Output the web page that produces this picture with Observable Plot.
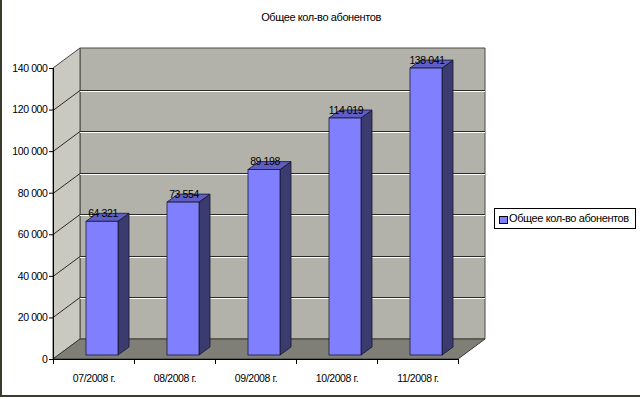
<!DOCTYPE html>
<html>
<head>
<meta charset="utf-8">
<script src="https://cdn.jsdelivr.net/npm/d3@7"></script>
<script src="https://cdn.jsdelivr.net/npm/@observablehq/plot@0.6"></script>
<style>
  html, body { margin: 0; padding: 0; background: #fff; }
  #wrap { position: relative; width: 640px; height: 399px; overflow: hidden; font-family: "Liberation Sans", Arial, sans-serif; }
  #frame { position: absolute; left: 0; top: 0; width: 640px; height: 397px; border-left: 2px solid #3b3b2c; border-bottom: 2px solid #3b3b2c; box-sizing: border-box; pointer-events: none; }
  #title { position: absolute; top: 11px; left: 0; width: 642px; text-align: center; font-size: 11px; letter-spacing: -0.4px; color: #000; }
  #legend { position: absolute; left: 494px; top: 208px; width: 142px; height: 21px; border: 1px solid #000; box-sizing: border-box; background: #fff; font-size: 11px; letter-spacing: -0.4px; }
  #legend .sw { position: absolute; left: 4px; top: 7px; width: 7px; height: 6px; background: #8080ff; border: 1px solid #000; }
  #legend .lb { position: absolute; left: 14px; top: 3px; white-space: nowrap; }
  svg { position: absolute; left: 0; top: 0; }
  svg text { letter-spacing: -0.4px; }
</style>
</head>
<body>
<div id="wrap">
  <div id="chart"></div>
  <div id="title"></div>
  <div id="legend"><div class="sw"></div><div class="lb"></div></div>
  <div id="frame"></div>
</div>
<script>
const title = "Общее кол-во абонентов";
const seriesName = "Общее кол-во абонентов";
const months = ["07/2008 г.", "08/2008 г.", "09/2008 г.", "10/2008 г.", "11/2008 г."];
const subscribers = [64321, 73554, 89198, 114019, 138041];
const yTicks = [0, 20000, 40000, 60000, 80000, 100000, 120000, 140000];

document.getElementById("title").textContent = title;
document.querySelector("#legend .lb").textContent = seriesName;

const data = months.map((m, i) => ({month: m, i, value: subscribers[i]}));
const fmt = (v) => d3.format(",")(v).replace(/,/g, " ");

// 3D geometry (pixels)
const DEPTH = {dx: 27, dy: 20};
const BAR = {inL: 33, inR: 16, dx: 11, dy: 8, lift: 4};

const svgNS = "http://www.w3.org/2000/svg";
function poly(pts, fill, stroke, sw) {
  const p = document.createElementNS(svgNS, "polygon");
  p.setAttribute("points", pts.map(q => q.join(",")).join(" "));
  p.setAttribute("fill", fill);
  if (stroke) { p.setAttribute("stroke", stroke); p.setAttribute("stroke-width", sw || 1); }
  return p;
}
function line(x1, y1, x2, y2, stroke, sw) {
  const l = document.createElementNS(svgNS, "line");
  l.setAttribute("x1", x1); l.setAttribute("y1", y1);
  l.setAttribute("x2", x2); l.setAttribute("y2", y2);
  l.setAttribute("stroke", stroke); l.setAttribute("stroke-width", sw || 1);
  return l;
}

// walls + floor + gridlines
function walls(index, scales) {
  const {x, y} = scales;
  const g = document.createElementNS(svgNS, "g");
  const x0 = x(0), x5 = x(months.length), y0 = y(0), yT = y(yTicks[yTicks.length - 1]);
  const D = DEPTH;
  g.appendChild(poly([[x0 + D.dx, yT - D.dy], [x5 + D.dx, yT - D.dy], [x5 + D.dx, y0 - D.dy], [x0 + D.dx, y0 - D.dy]], "#b2b2aa", "#4a4a44", 1));
  g.appendChild(poly([[x0, yT], [x0 + D.dx, yT - D.dy], [x0 + D.dx, y0 - D.dy], [x0, y0]], "#c9c9c1", "#4a4a44", 1));
  for (const t of yTicks.slice(1, -1)) {
    const yy = Math.round(y(t)) + 0.5;
    g.appendChild(line(x0 + D.dx, yy - D.dy, x5 + D.dx, yy - D.dy, "#2a2a2a", 1));
    g.appendChild(line(x0 + D.dx, yy - D.dy + 1, x5 + D.dx, yy - D.dy + 1, "#ffffff", 1.2));
    g.appendChild(line(x0, yy, x0 + D.dx, yy - D.dy, "#2a2a2a", 1));
  }
  g.appendChild(poly([[x0, y0], [x5, y0], [x5 + D.dx, y0 - D.dy], [x0 + D.dx, y0 - D.dy]], "#7f7f77", "#3a3a34", 1));
  return g;
}

// side + top faces of bars
function barFaces(index, scales) {
  const {x, y} = scales;
  const g = document.createElementNS(svgNS, "g");
  for (const d of data) {
    const xl = x(d.i) + BAR.inL, xr = x(d.i + 1) - BAR.inR;
    const yb = y(0) - BAR.lift, yt = y(d.value) - BAR.lift;
    g.appendChild(poly([[xr, yb], [xr + BAR.dx, yb - BAR.dy], [xr + BAR.dx, yt - BAR.dy], [xr, yt]], "#3b3b6f", "#15152a", 0.8));
    g.appendChild(poly([[xl, yt], [xl + BAR.dx, yt - BAR.dy], [xr + BAR.dx, yt - BAR.dy], [xr, yt]], "#5e5ec4", "#15152a", 0.8));
  }
  return g;
}

const chart = Plot.plot({
  width: 640,
  height: 399,
  marginLeft: 53,
  marginRight: 182,
  marginTop: 68,
  marginBottom: 40,
  style: {fontFamily: "Liberation Sans, Arial, sans-serif", fontSize: "10.5px", color: "#000", background: "transparent"},
  x: {type: "linear", domain: [0, months.length]},
  y: {domain: [0, 140000]},
  marks: [
    walls,
    barFaces,
    Plot.rectY(data, {x1: "i", x2: d => d.i + 1, y1: 0, y2: "value", insetLeft: BAR.inL, insetRight: BAR.inR, dy: -BAR.lift, fill: "#8080ff", stroke: "#1a1a33", strokeWidth: 0.8}),
    Plot.text(data, {x: d => d.i + 0.5, y: "value", text: d => fmt(d.value), dx: 9, dy: -9, fill: "#000", fontSize: 10.5, lineAnchor: "bottom"}),
    Plot.ruleX([0], {y1: 0, y2: 140000, stroke: "#000"}),
    Plot.ruleY([0], {x1: 0, x2: months.length, stroke: "#000"}),
    Plot.axisY({ticks: yTicks, tickFormat: fmt, tickSize: 4, tickPadding: 2, label: null, fontSize: 10.5, stroke: "#000"}),
    Plot.axisX({ticks: d3.range(months.length + 1), tickFormat: () => "", tickSize: 5, label: null, stroke: "#000"}),
    Plot.text(data, {x: d => d.i + 0.5, y: 0, text: "month", dy: 19, fill: "#000", fontSize: 10.5})
  ]
});
document.getElementById("chart").appendChild(chart);
</script>
</body>
</html>
